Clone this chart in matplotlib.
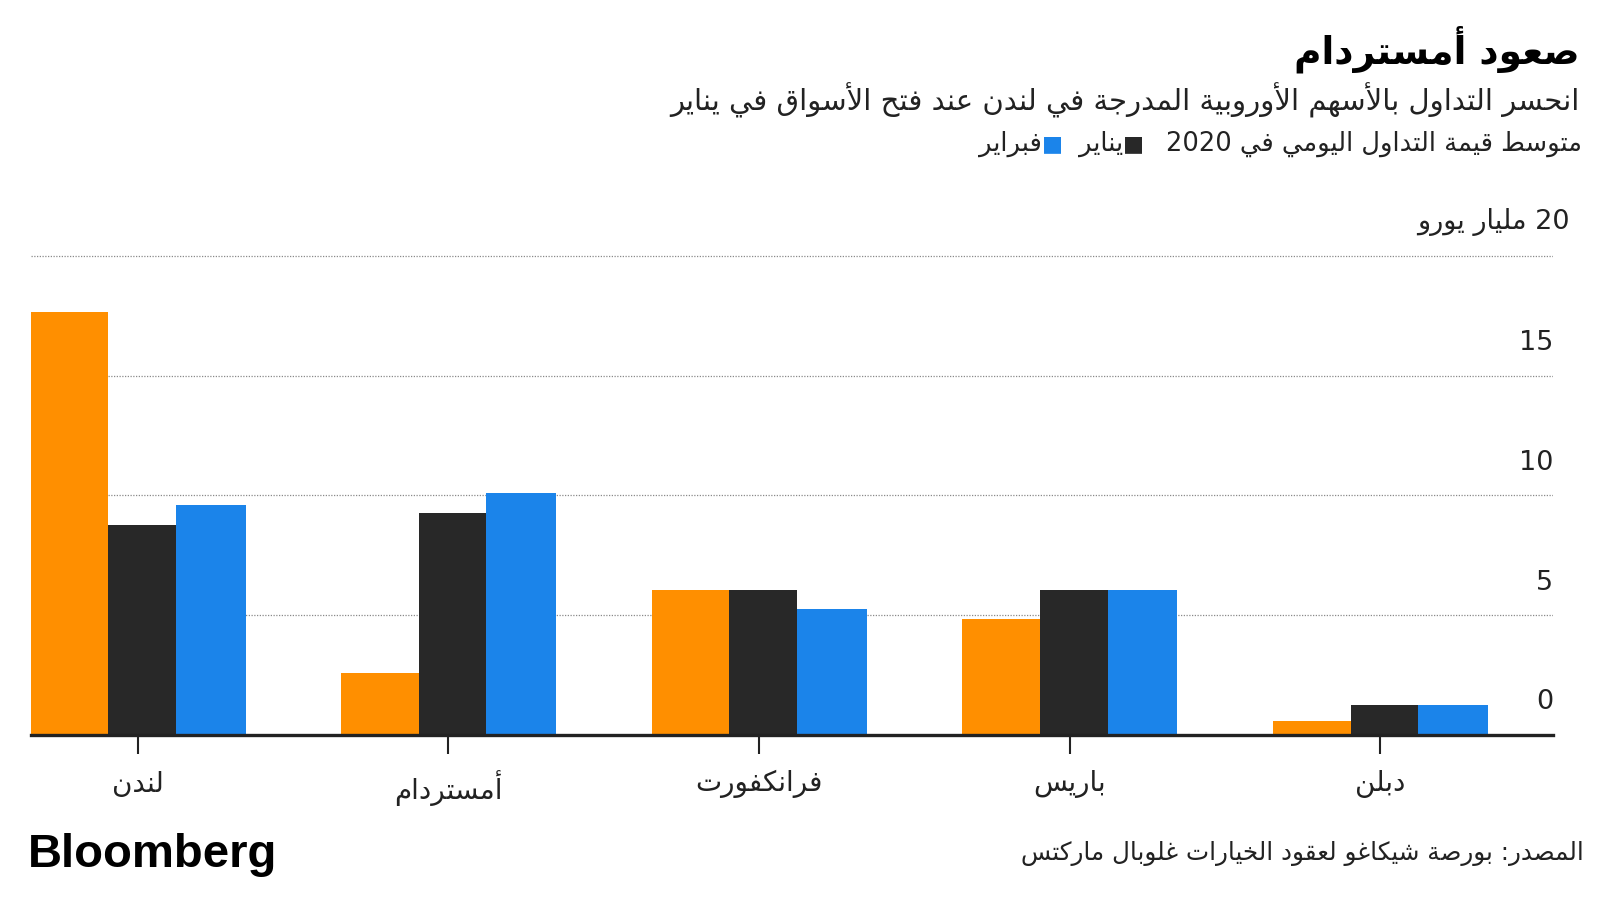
import re
import numpy as np
import matplotlib
matplotlib.use("Agg")
import matplotlib.pyplot as plt

plt.rcParams['font.family'] = ['DejaVu Sans']

# ---- data ----
title = "صعود أمستردام"
subtitle = "انحسر التداول بالأسهم الأوروبية المدرجة في لندن عند فتح الأسواق في يناير"
legend_intro = "متوسط قيمة التداول اليومي في 2020"
series_names = ["يناير", "فبراير"]
unit = "مليار يورو"
source = "المصدر: بورصة شيكاغو لعقود الخيارات غلوبال ماركتس"

cities = ["لندن", "أمستردام", "فرانكفورت", "باريس", "دبلن"]
avg_2020 = [17.65, 2.6, 6.07, 4.86, 0.57]
jan = [8.75, 9.27, 6.06, 6.07, 1.24]
feb = [9.6, 10.12, 5.28, 6.05, 1.24]
y_ticks = [0, 5, 10, 15, 20]

ORANGE = '#FF8F00'
BLACK = '#282828'
BLUE = '#1B84EA'

# ---- simple arabic shaping (matplotlib has no complex text layout) ----
AR = {
    'ء': (0xFE80, 1), 'آ': (0xFE81, 2), 'أ': (0xFE83, 2), 'ؤ': (0xFE85, 2),
    'إ': (0xFE87, 2), 'ئ': (0xFE89, 4), 'ا': (0xFE8D, 2), 'ب': (0xFE8F, 4),
    'ة': (0xFE93, 2), 'ت': (0xFE95, 4), 'ث': (0xFE99, 4), 'ج': (0xFE9D, 4),
    'ح': (0xFEA1, 4), 'خ': (0xFEA5, 4), 'د': (0xFEA9, 2), 'ذ': (0xFEAB, 2),
    'ر': (0xFEAD, 2), 'ز': (0xFEAF, 2), 'س': (0xFEB1, 4), 'ش': (0xFEB5, 4),
    'ص': (0xFEB9, 4), 'ض': (0xFEBD, 4), 'ط': (0xFEC1, 4), 'ظ': (0xFEC5, 4),
    'ع': (0xFEC9, 4), 'غ': (0xFECD, 4), 'ف': (0xFED1, 4), 'ق': (0xFED5, 4),
    'ك': (0xFED9, 4), 'ل': (0xFEDD, 4), 'م': (0xFEE1, 4), 'ن': (0xFEE5, 4),
    'ه': (0xFEE9, 4), 'و': (0xFEED, 2), 'ى': (0xFEEF, 2), 'ي': (0xFEF1, 4),
}
LAM_ALEF = {'آ': 0xFEF5, 'أ': 0xFEF7, 'إ': 0xFEF9, 'ا': 0xFEFB}


def shape(s):
    out = []
    i, n = 0, len(s)
    while i < n:
        c = s[i]
        if c not in AR:
            out.append(c)
            i += 1
            continue
        prev = s[i - 1] if i > 0 else ''
        p = prev in AR and AR[prev][1] == 4
        if c == 'ل' and i + 1 < n and s[i + 1] in LAM_ALEF:
            out.append(chr(LAM_ALEF[s[i + 1]] + (1 if p else 0)))
            i += 2
            continue
        base, k = AR[c]
        nxt = s[i + 1] if i + 1 < n else ''
        q = k == 4 and nxt in AR
        if k == 1:
            form = 0
        elif p and q:
            form = 3
        elif p:
            form = 1
        elif q:
            form = 2
        else:
            form = 0
        out.append(chr(base + form))
        i += 1
    return ''.join(out)


def ar(s):
    t = shape(s)[::-1]
    return re.sub(r'[0-9]+', lambda m: m.group(0)[::-1], t)


# ---- figure ----
fig = plt.figure(figsize=(16, 9), dpi=100)
ax = fig.add_axes([0.0191, 0.1833, 0.9515, 0.5456])

x = np.arange(len(cities))
ax.bar(x - 0.345, avg_2020, width=0.25, align='edge', color=ORANGE, zorder=2)
ax.bar(x - 0.095, jan, width=0.217, align='edge', color=BLACK, zorder=2)
ax.bar(x + 0.122, feb, width=0.225, align='edge', color=BLUE, zorder=2)

ax.set_xlim(-0.345, 4.556)
ax.set_ylim(0, 20.5)

for v in y_ticks[1:]:
    ax.axhline(v, color='#8a8a8a', lw=0.9, ls=(0, (1, 1.2)), zorder=1)

for s in ['top', 'left', 'right']:
    ax.spines[s].set_visible(False)
ax.spines['bottom'].set_color('#222222')
ax.spines['bottom'].set_linewidth(2.4)
ax.spines['bottom'].set_zorder(3)

ax.set_yticks([])
ax.set_xticks(x)
ax.set_xticklabels([ar(c) for c in cities], fontsize=20, color='#222222')
ax.tick_params(axis='x', length=14, width=1.5, color='#222222', pad=11)

for v in y_ticks:
    label = ar(f"{v} {unit}") if v == y_ticks[-1] else str(v)
    dx, dy = (12, 19.5) if v == y_ticks[-1] else (0, 18.5)
    ax.annotate(label, xy=(1, v), xycoords=('axes fraction', 'data'),
                xytext=(dx, dy), textcoords='offset points',
                ha='right', va='baseline', fontsize=19.5, color='#222222')

# ---- header ----
fig.text(0.9875, 0.9456, ar(title), ha='right', va='center',
         fontsize=27, fontweight='bold', color='black')
fig.text(0.9875, 0.889, ar(subtitle), ha='right', va='center',
         fontsize=21, color='#222222')

# legend line, laid out right to left
fig.canvas.draw()
renderer = fig.canvas.get_renderer()
W = fig.bbox.width
y_leg = 0.84
xr = 0.989 * W


def put(txt, xr_px, color='#222222', gap=0, size=18.5):
    t = fig.text(xr_px / W, y_leg, txt, ha='right', va='center',
                 fontsize=size, color=color)
    bb = t.get_window_extent(renderer)
    return bb.x0 - gap


xr = put(ar(legend_intro), xr, gap=22)
xr = put('■', xr, color=BLACK, size=16)
xr = put(ar(series_names[0]), xr, gap=16)
xr = put('■', xr, color=BLUE, size=16)
put(ar(series_names[1]), xr)

# ---- footer ----
fig.text(0.99, 0.052, ar(source), ha='right', va='center',
         fontsize=17.7, color='#222222')
fig.text(0.0175, 0.05, "Bloomberg", ha='left', va='center',
         fontsize=34, fontweight='bold', family='Liberation Sans', color='black')

fig.savefig('out.png', dpi=100, facecolor='white')
